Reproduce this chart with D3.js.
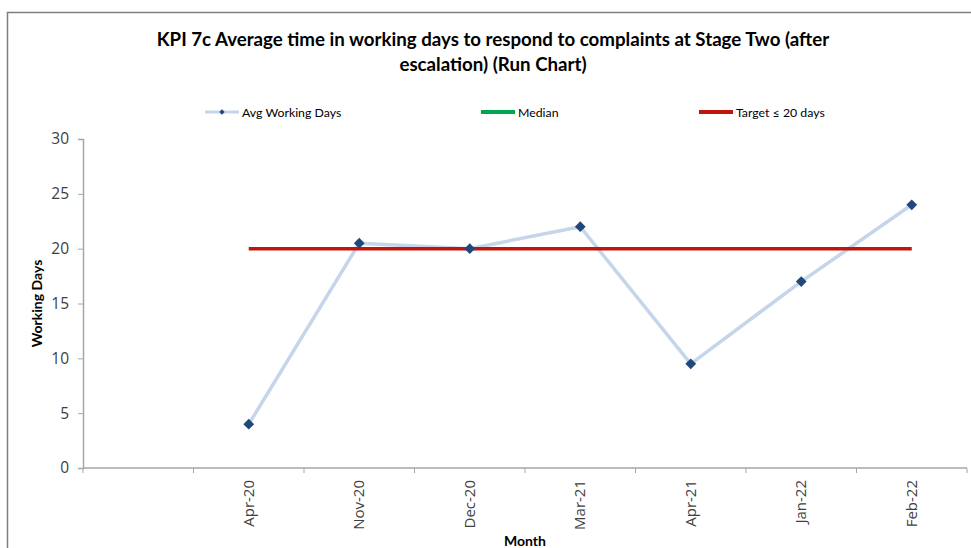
<!DOCTYPE html>
<html>
<head>
<meta charset="utf-8">
<script src="https://cdn.jsdelivr.net/npm/d3@7"></script>
<style>
  html, body { margin: 0; padding: 0; background: #fff; }
  svg { display: block; font-family: Lato, "Open Sans", sans-serif; }
</style>
</head>
<body>
<svg id="chart" width="971" height="548"></svg>
<script>
// Month categories (first slot is blank, as in the source workbook)
const months = ["", "Apr-20", "Nov-20", "Dec-20", "Mar-21", "Apr-21", "Jan-22", "Feb-22"];
// Average working days to respond at Stage Two
const avgDays = [null, 4, 20.5, 20, 22, 9.5, 17, 24];
// Target threshold (days)
const target = [null, 20, 20, 20, 20, 20, 20, 20];
// Median series (no values plotted)
const median = [null, null, null, null, null, null, null, null];
const yTicks = [0, 5, 10, 15, 20, 25, 30];
const titleLines = [
  "KPI 7c Average time in working days to respond to complaints at Stage Two (after",
  "escalation) (Run Chart)"
];
const legendItems = [
  { label: "Avg Working Days", color: "#c5d5ea", marker: true, x: 205 },
  { label: "Median", color: "#00a650", marker: false, x: 481 },
  { label: "Target \u2264 20 days", color: "#c0140c", marker: false, x: 699 }
];

const svg = d3.select("#chart");

// outer frame
svg.append("rect")
  .attr("x", 7.5).attr("y", 12.5)
  .attr("width", 980).attr("height", 560)
  .attr("fill", "#fff")
  .attr("stroke", "#7f7f7f").attr("stroke-width", 1.5);

const plot = { left: 83, right: 967, top: 139, bottom: 468 };

const x = d3.scaleBand().domain(months.map((m, i) => i)).range([plot.left, plot.right]).padding(0);
const y = d3.scaleLinear().domain([0, 30]).range([plot.bottom, plot.top]);
const cx = i => x(i) + x.bandwidth() / 2;

// diamond marker = square rotated 45 degrees
const diamond = area => d3.symbol(d3.symbolSquare, area)();

// title
const title = svg.append("g");
titleLines.forEach((t, i) => {
  title.append("text")
    .attr("x", 493).attr("y", 46 + i * 25)
    .attr("text-anchor", "middle")
    .attr("font-size", 18).attr("font-weight", "bold")
    .attr("fill", "#000")
    .text(t);
});
// fit the first title line to its intended width
const t0 = title.select("text").node();
const w0 = t0.getComputedTextLength();
const fs = 18 * 673 / w0;
title.selectAll("text").attr("font-size", fs);

// legend
const leg = svg.append("g");
legendItems.forEach(d => {
  const g = leg.append("g").attr("transform", `translate(${d.x},112)`);
  g.append("line").attr("x1", 0).attr("x2", 34).attr("y1", 0).attr("y2", 0)
    .attr("stroke", d.color).attr("stroke-width", d.marker ? 3 : 4);
  if (d.marker) {
    g.append("path").attr("d", diamond(14)).attr("transform", "translate(17,0) rotate(45)")
      .attr("fill", "#1f497d");
  }
  g.append("text").attr("x", 37).attr("y", 4.5)
    .attr("font-size", 12.3).attr("fill", "#000").text(d.label);
});

// y axis
const yAxis = svg.append("g").attr("transform", `translate(${plot.left},0)`)
  .call(d3.axisLeft(y).tickValues(yTicks).tickSize(5).tickPadding(9));
yAxis.select(".domain").attr("stroke", "#a6a6a6").attr("stroke-width", 1.5);
yAxis.selectAll(".tick line").attr("stroke", "#a6a6a6");
yAxis.selectAll(".tick text").attr("font-size", 15.5).attr("fill", "#404040")
  .attr("font-family", "'Open Sans', Lato, sans-serif");

// x axis: ticks sit on category boundaries
const boundaries = d3.range(months.length + 1).map(i => plot.left + i * x.bandwidth());
const xAxisG = svg.append("g");
xAxisG.append("line").attr("x1", plot.left).attr("x2", plot.right)
  .attr("y1", plot.bottom).attr("y2", plot.bottom)
  .attr("stroke", "#a6a6a6").attr("stroke-width", 1.5);
xAxisG.selectAll("line.tk").data(boundaries).join("line").attr("class", "tk")
  .attr("x1", d => d).attr("x2", d => d)
  .attr("y1", plot.bottom).attr("y2", plot.bottom + 5)
  .attr("stroke", "#a6a6a6");
xAxisG.selectAll("text").data(months).join("text")
  .attr("transform", (d, i) => `translate(${cx(i) + 5},${plot.bottom + 12}) rotate(-90)`)
  .attr("text-anchor", "end")
  .attr("font-size", 15).attr("fill", "#404040")
  .attr("font-family", "'Open Sans', Lato, sans-serif")
  .text(d => d);

// axis titles
svg.append("text")
  .attr("transform", `translate(42,${(plot.top + plot.bottom) / 2}) rotate(-90)`)
  .attr("text-anchor", "middle").attr("font-size", 14).attr("font-weight", "bold")
  .text("Working Days");
svg.append("text")
  .attr("x", (plot.left + plot.right) / 2).attr("y", 546)
  .attr("text-anchor", "middle").attr("font-size", 14).attr("font-weight", "bold")
  .text("Month");

// series lines
const lineGen = d3.line().defined(d => d.v != null).x(d => cx(d.i)).y(d => y(d.v));
svg.append("path")
  .datum(avgDays.map((v, i) => ({ i, v })))
  .attr("d", lineGen).attr("fill", "none")
  .attr("stroke", "#c5d5ea").attr("stroke-width", 3.5).attr("stroke-linejoin", "round");

svg.append("path")
  .datum(median.map((v, i) => ({ i, v })))
  .attr("d", lineGen).attr("fill", "none")
  .attr("stroke", "#00a650").attr("stroke-width", 3.5);

svg.append("path")
  .datum(target.map((v, i) => ({ i, v })))
  .attr("d", lineGen).attr("fill", "none")
  .attr("stroke", "#c0140c").attr("stroke-width", 3.5);

// markers
svg.append("g").selectAll("path")
  .data(avgDays.map((v, i) => ({ i, v })).filter(d => d.v != null))
  .join("path")
  .attr("d", diamond(58))
  .attr("transform", d => `translate(${cx(d.i)},${y(d.v)}) rotate(45)`)
  .attr("fill", "#1f497d");
</script>
</body>
</html>
